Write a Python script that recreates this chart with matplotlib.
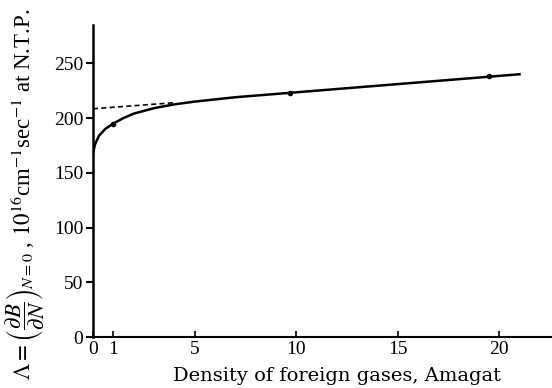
import matplotlib
matplotlib.use("Agg")
import matplotlib.pyplot as plt

# Data
curve_x = [0, 0.1, 0.3, 0.6, 1, 1.5, 2, 3, 4, 5, 7, 10, 15, 21]
curve_y = [168, 176, 184, 190, 195, 200, 204, 209, 212.5, 215, 219, 223.5, 231, 240]
dash_x = [0, 4]
dash_y = [208.5, 214]
point_x = [1, 9.7, 19.5]
point_y = [195, 222.5, 238]
xticks = [0, 1, 5, 10, 15, 20]
yticks = [0, 50, 100, 150, 200, 250]

plt.rcParams['font.family'] = ['Liberation Serif', 'DejaVu Serif']
plt.rcParams['mathtext.fontset'] = 'stix'

fig = plt.figure(figsize=(5.52, 3.88), dpi=100)
ax = fig.add_axes([0.1685, 0.1314, 0.8315, 0.8042])
ax.plot(curve_x, curve_y, color='black', lw=1.8)
ax.plot(dash_x, dash_y, color='black', lw=1.2, ls=(0, (3, 2)))
ax.plot(point_x, point_y, 'o', color='black', ms=3)

ax.set_xlim(0, 22.6)
ax.set_ylim(0, 285)
ax.set_xticks(xticks)
ax.set_yticks(yticks)
ax.spines['top'].set_visible(False)
ax.spines['right'].set_visible(False)
ax.spines['left'].set_linewidth(1.8)
ax.spines['bottom'].set_linewidth(1.5)
ax.tick_params(axis='x', direction='in', length=4, width=1.2, labelsize=14, pad=3)
ax.tick_params(axis='y', direction='out', length=5, width=1.5, labelsize=14, pad=2)
ax.set_xlabel('Density of foreign gases, Amagat', fontsize=14, family='DejaVu Serif')
ax.xaxis.set_label_coords(0.532, -0.095)
ax.set_ylabel(r'$\Lambda=\left(\dfrac{\partial B}{\partial N}\right)_{N=0}$ , $10^{16}$cm$^{-1}$sec$^{-1}$ at N.T.P.',
              fontsize=16.5)
ax.yaxis.set_label_coords(-0.10, 0.458)

fig.savefig('out.png', dpi=100)
